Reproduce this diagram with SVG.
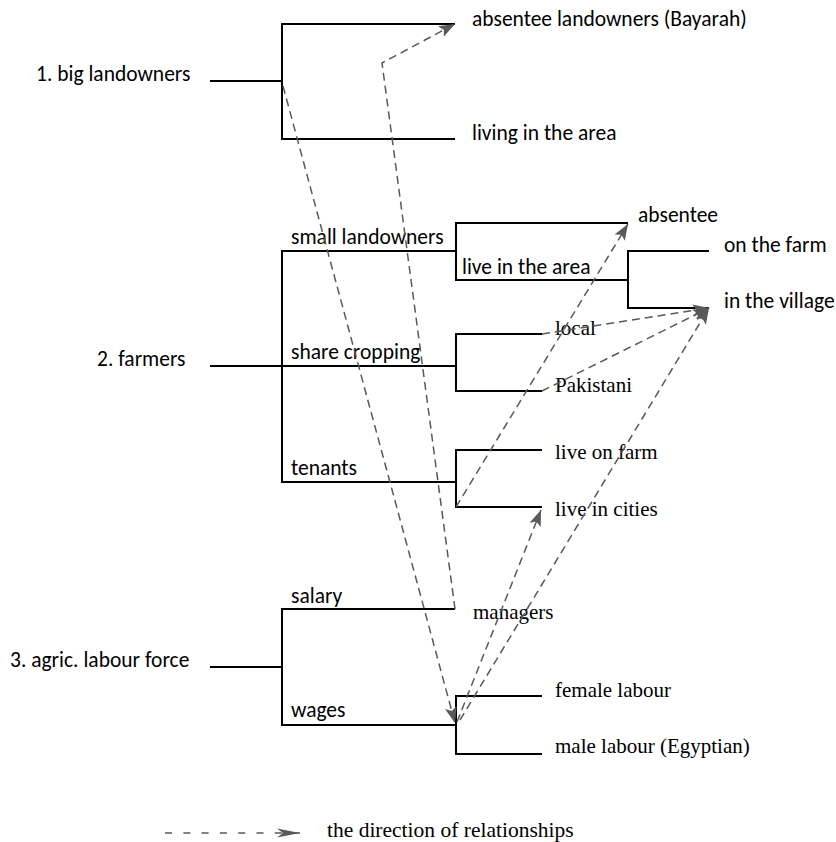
<svg xmlns="http://www.w3.org/2000/svg" width="836" height="842" viewBox="0 0 836 842">
<style>
.ln{fill:none;stroke:#000;stroke-width:2}
.dl{fill:none;stroke:#595959;stroke-width:1.5;stroke-dasharray:8 5}
.s{font-family:Carlito,Lato,"Open Sans",sans-serif;font-size:21.5px;fill:#000}
.t{font-family:"Liberation Serif","Times New Roman",serif;font-size:21px;fill:#000}
</style>
<defs>
<marker id="ah" markerUnits="userSpaceOnUse" markerWidth="18" markerHeight="14" refX="16" refY="7" orient="auto"><path d="M0,1 L16,7 L0,13 L3.5,7 z" fill="#595959"/></marker>
<marker id="ah2" markerUnits="userSpaceOnUse" markerWidth="24" markerHeight="10" refX="23" refY="5" orient="auto"><path d="M0,0.5 L23,5 L0,9.5 L6,5 z" fill="#595959"/></marker>
</defs>
<rect width="836" height="842" fill="#fff"/>
<g id="n1">
<text class="s" x="36" y="81">1. big landowners</text>
<path class="ln" d="M210,81 H282 M455,24 H282 V139 H455"/>
<text class="s" x="472" y="26">absentee landowners (Bayarah)</text>
<text class="s" x="472" y="140">living in the area</text>
</g>
<g id="n2">
<text class="s" x="97" y="366">2. farmers</text>
<path class="ln" d="M210,366 H456 M456,251 H282 V482 H456"/>
<text class="s" x="291" y="244">small landowners</text>
<text class="s" x="291" y="359">share cropping</text>
<text class="s" x="291" y="475">tenants</text>
</g>
<g id="n2a">
<path class="ln" d="M628,223 H456 V280 H628 M709,251 H628 V308 H709"/>
<text class="s" x="638" y="222">absentee</text>
<text class="s" x="462" y="274">live in the area</text>
<text class="s" x="724" y="252">on the farm</text>
<text class="s" x="724" y="308">in the village</text>
</g>
<g id="n2b">
<path class="ln" d="M542,334 H456 V391 H542"/>
<text class="t" x="555" y="335">local</text>
<text class="t" x="555" y="392">Pakistani</text>
</g>
<g id="n2c">
<path class="ln" d="M542,450 H456 V507 H542"/>
<text class="t" x="555" y="459">live on farm</text>
<text class="t" x="555" y="516">live in cities</text>
</g>
<g id="n3">
<text class="s" x="10" y="667">3. agric. labour force</text>
<path class="ln" d="M210,667 H282 M455,609 H282 V725 H456"/>
<text class="s" x="291" y="603">salary</text>
<text class="s" x="291" y="717">wages</text>
<text class="t" x="473" y="619">managers</text>
</g>
<g id="n3b">
<path class="ln" d="M542,696 H456 V754 H542"/>
<text class="t" x="555" y="697">female labour</text>
<text class="t" x="555" y="753">male labour (Egyptian)</text>
</g>
<g id="connectors">
<path class="dl" d="M283,86 L455,723" marker-end="url(#ah)"/>
<path class="dl" d="M455,609 L382,63 L455,24" marker-end="url(#ah)"/>
<path class="dl" d="M456,507 L628,224" marker-end="url(#ah)"/>
<path class="dl" d="M542,334 L709,308" marker-end="url(#ah)"/>
<path class="dl" d="M542,391 L709,308" marker-end="url(#ah)"/>
<path class="dl" d="M460,720 L709,308" marker-end="url(#ah)"/>
<path class="dl" d="M457,722 L541,510" marker-end="url(#ah)"/>
</g>
<g id="legend">
<path d="M165,833 H300" fill="none" stroke="#595959" stroke-width="1.5" stroke-dasharray="7 11.3" marker-end="url(#ah2)"/>
<text class="t" x="327" y="837" style="font-size:21.5px">the direction of relationships</text>
</g>
</svg>
